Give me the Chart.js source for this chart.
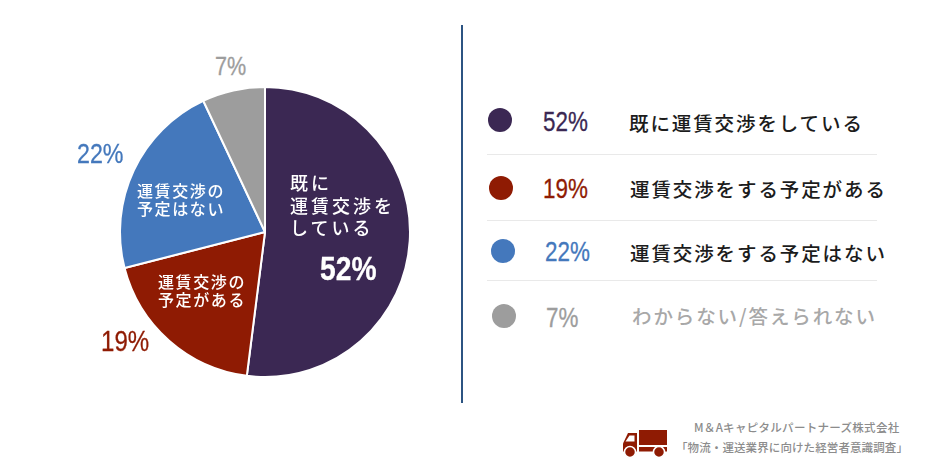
<!DOCTYPE html>
<html lang="ja">
<head>
<meta charset="utf-8">
<script src="https://cdn.jsdelivr.net/npm/chart.js@4"></script>
<style>
  html, body { margin: 0; padding: 0; background: #fff; }
  #page { position: relative; width: 930px; height: 474px; overflow: hidden; font-family: "Noto Sans CJK JP", sans-serif; }
  #pie { position: absolute; left: 115px; top: 82px; width: 300px; height: 300px; }
  .t { position: absolute; white-space: nowrap; }
  .pct { font-family: "Liberation Sans", sans-serif; transform: scaleX(0.83); transform-origin: left center; -webkit-text-stroke: 0.3px currentColor; }
  .dot { position: absolute; width: 24px; height: 24px; border-radius: 50%; }
  .rule { position: absolute; height: 1px; background: #e9e9e9; }
</style>
</head>
<body>
<div id="page">
  <div id="pie"><canvas id="chart" width="300" height="300"></canvas></div>
  <div style="position:absolute;left:461px;top:25px;width:2px;height:378px;background:#2c5482"></div>
  <svg style="position:absolute;left:620px;top:426px" width="52" height="32" viewBox="0 0 52 32">
    <rect x="19" y="4" width="28" height="15" fill="#8f1b03"/>
    <rect x="19" y="21" width="28" height="4.500" fill="#8f1b03"/>
    <path d="M8 7h9v18.500H3v-8z" fill="#8f1b03"/>
    <path d="M9.500 9.500h5v6h-9z" fill="#fff"/>
    <circle cx="10" cy="26" r="5.500" fill="#8f1b03" stroke="#fff" stroke-width="1.500"/>
    <circle cx="39" cy="26" r="5.500" fill="#8f1b03" stroke="#fff" stroke-width="1.500"/>
  </svg>
  <div class="t" style="left:694px;top:419px;font-size:11.500px;letter-spacing:0.300px;color:#8c8c8c;font-weight:500">M＆Aキャピタルパートナーズ株式会社</div>
  <div class="t" style="left:676px;top:439px;font-size:11.500px;letter-spacing:0.100px;color:#8c8c8c;font-weight:500">「物流・運送業界に向けた経営者意識調査」</div>
</div>
<script>
// values, clockwise from the top
const categories = ['既に運賃交渉をしている', '運賃交渉をする予定がある', '運賃交渉をする予定はない', 'わからない/答えられない'];
const values = [52, 19, 22, 7];
const colors = ['#3b2853', '#8f1b03', '#4478bc', '#9d9d9d'];
const legendColors = ['#1c1c1c', '#1c1c1c', '#1c1c1c', '#a8a8a8'];

// text placed on and around the pie
const sliceLabels = [['既に', '運賃交渉を', 'している'], ['運賃交渉の', '予定がある'], ['運賃交渉の', '予定はない'], []];
const sliceLabelPos = [[290, 171], [158, 272], [137, 181], [0, 0]];
const pctPos = [[320, 249], [101, 325], [77, 138], [215, 52]];
const pctSize = [34, 29, 28, 26];
const pctColors = ['#ffffff', '#8f1b03', '#4478bc', '#9d9d9d'];

// legend rows
const dotPos = [[488, 108], [489, 176], [491, 239], [492, 304]];
const legendPctX = [543, 543, 545, 546];
const legendPctY = [107, 174, 237, 303];
const legendTextX = [629, 630, 630, 632];
const legendTextY = [109, 175, 239, 302];
const ruleY = [154, 220, 280];

const page = document.getElementById('page');

function addText(txt, cls, css) {
    const el = document.createElement('div');
    el.className = cls;
    el.textContent = txt;
    el.style.cssText = css;
    page.append(el);
}

values.forEach((v, i) => {
    addText(v + '%', 't pct', `left:${pctPos[i][0]}px;top:${pctPos[i][1]}px;font-size:${pctSize[i]}px;line-height:1.150;color:${pctColors[i]};${i === 0 ? 'font-weight:bold;' : ''}`);

    sliceLabels[i].forEach((line, k) => {
        const big = i === 0;
        const lh = big ? 22.500 : 18;
        addText(line, 't', `left:${sliceLabelPos[i][0]}px;top:${sliceLabelPos[i][1] + k * lh}px;font-size:${big ? 18 : 16}px;letter-spacing:${big ? 3 : 1.600}px;line-height:${lh}px;color:#fff;font-weight:500`);
    });

    const dot = document.createElement('div');
    dot.className = 'dot';
    dot.style.cssText = `left:${dotPos[i][0]}px;top:${dotPos[i][1]}px;background:${colors[i]}`;
    page.append(dot);

    addText(v + '%', 't pct', `left:${legendPctX[i]}px;top:${legendPctY[i]}px;font-size:27px;line-height:1.150;color:${colors[i]}`);
    addText(categories[i], 't', `left:${legendTextX[i]}px;top:${legendTextY[i]}px;font-size:19.500px;letter-spacing:1.900px;line-height:28px;font-weight:500;color:${legendColors[i]}`);
});

ruleY.forEach(y => {
    const r = document.createElement('div');
    r.className = 'rule';
    r.style.cssText = `left:487px;top:${y}px;width:390px`;
    page.append(r);
});

new Chart(document.getElementById('chart'), {
    type: 'pie',
    data: {
        labels: categories,
        datasets: [{
            data: values,
            backgroundColor: colors,
            borderColor: '#ffffff',
            borderWidth: 2,
        }],
    },
    options: {
        responsive: false,
        animation: false,
        layout: { padding: 4 },
        plugins: { legend: { display: false }, tooltip: { enabled: false } },
    },
});
</script>
</body>
</html>
